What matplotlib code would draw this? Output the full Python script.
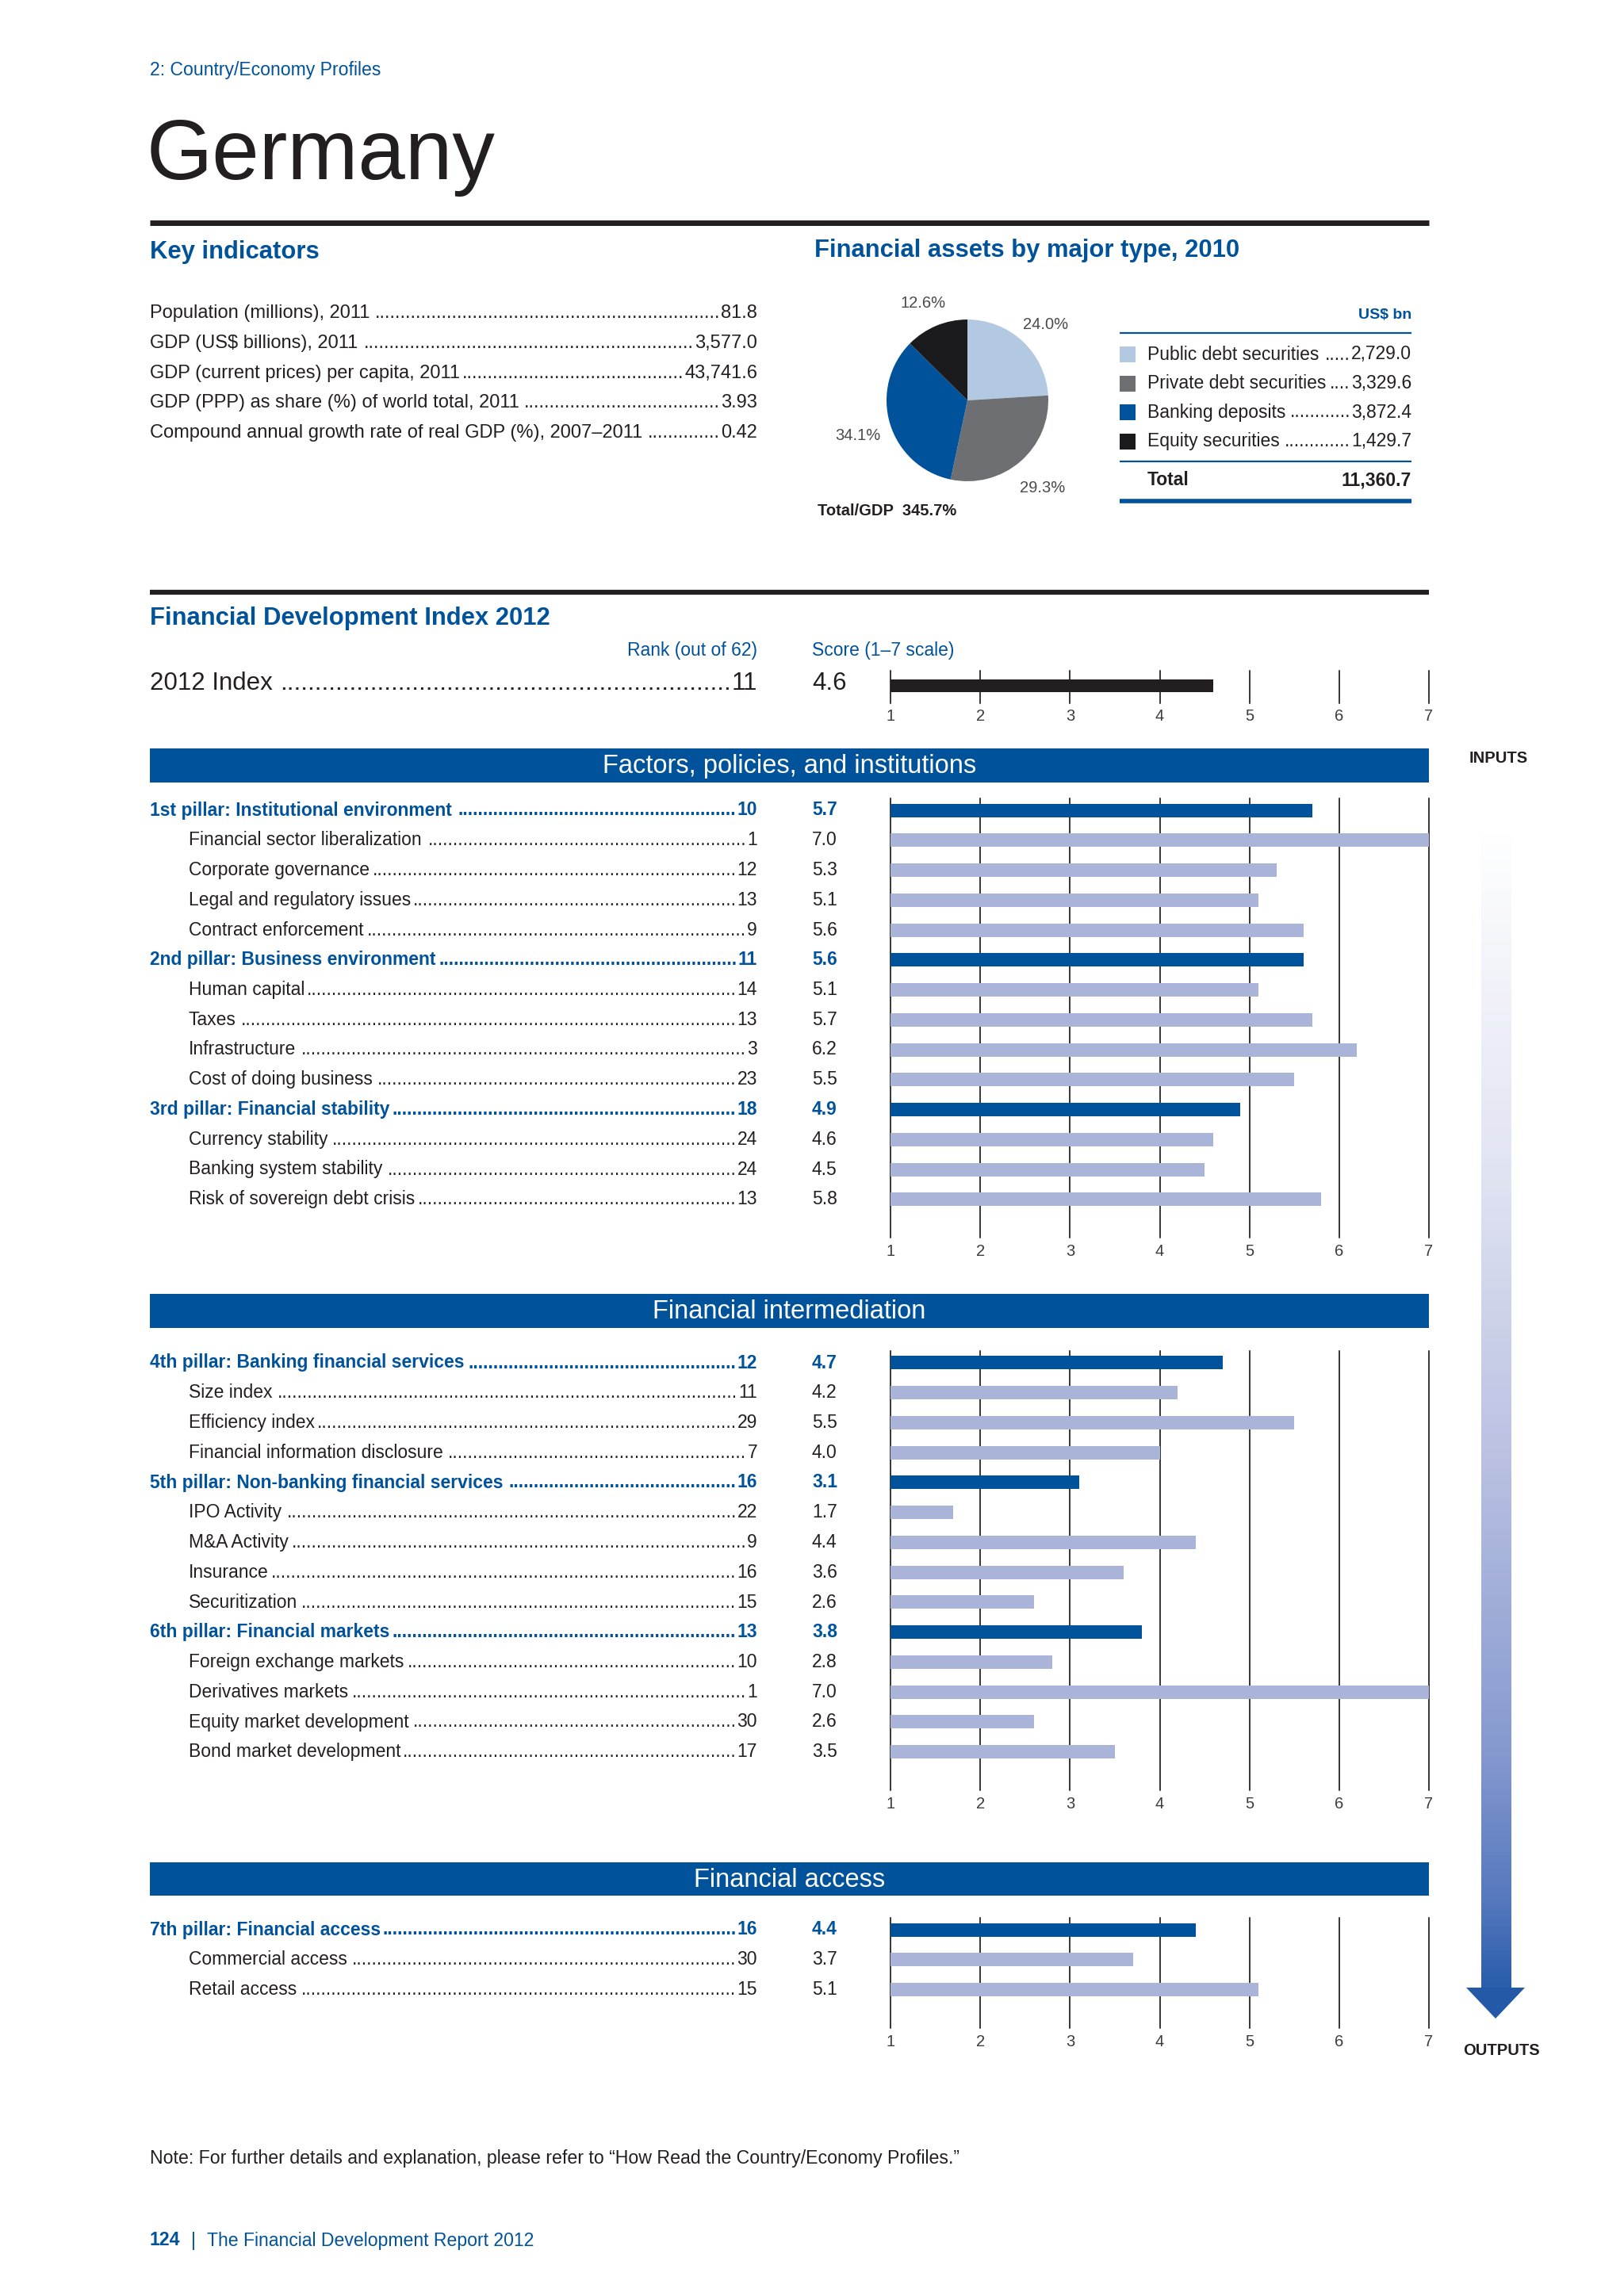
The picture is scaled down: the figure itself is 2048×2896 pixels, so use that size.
import numpy as np
import matplotlib
matplotlib.use('Agg')
import matplotlib.pyplot as plt
from matplotlib.patches import Rectangle, Polygon
from matplotlib.colors import LinearSegmentedColormap

W, H = 2048, 2896
DPI = 100

BLUE = '#00529b'
LIGHT = '#aab4d9'
INK = '#231f20'
TICK = '#3c3c3c'
BODY = 16.5

plt.rcParams['font.family'] = ['Liberation Sans', 'DejaVu Sans']

# --- data -------------------------------------------------------------------
key_labels = ['Population (millions), 2011',
              'GDP (US$ billions), 2011',
              'GDP (current prices) per capita, 2011',
              'GDP (PPP) as share (%) of world total, 2011',
              'Compound annual growth rate of real GDP (%), 2007\u20132011']
key_values = ['81.8', '3,577.0', '43,741.6', '3.93', '0.42']

asset_labels = ['Public debt securities', 'Private debt securities',
                'Banking deposits', 'Equity securities']
asset_values = [2729.0, 3329.6, 3872.4, 1429.7]
asset_colors = ['#b3c8e1', '#6e6f72', '#00529b', '#1b1b1d']
asset_total = 11360.7
total_gdp_pct = 345.7

index_rank = 11
index_score = 4.6

sec1_labels = ['1st pillar: Institutional environment',
               'Financial sector liberalization', 'Corporate governance',
               'Legal and regulatory issues', 'Contract enforcement',
               '2nd pillar: Business environment',
               'Human capital', 'Taxes', 'Infrastructure', 'Cost of doing business',
               '3rd pillar: Financial stability',
               'Currency stability', 'Banking system stability',
               'Risk of sovereign debt crisis']
sec1_ranks = [10, 1, 12, 13, 9, 11, 14, 13, 3, 23, 18, 24, 24, 13]
sec1_scores = [5.7, 7.0, 5.3, 5.1, 5.6, 5.6, 5.1, 5.7, 6.2, 5.5, 4.9, 4.6, 4.5, 5.8]

sec2_labels = ['4th pillar: Banking financial services',
               'Size index', 'Efficiency index', 'Financial information disclosure',
               '5th pillar: Non-banking financial services',
               'IPO Activity', 'M&A Activity', 'Insurance', 'Securitization',
               '6th pillar: Financial markets',
               'Foreign exchange markets', 'Derivatives markets',
               'Equity market development', 'Bond market development']
sec2_ranks = [12, 11, 29, 7, 16, 22, 9, 16, 15, 13, 10, 1, 30, 17]
sec2_scores = [4.7, 4.2, 5.5, 4.0, 3.1, 1.7, 4.4, 3.6, 2.6, 3.8, 2.8, 7.0, 2.6, 3.5]

sec3_labels = ['7th pillar: Financial access', 'Commercial access', 'Retail access']
sec3_ranks = [16, 30, 15]
sec3_scores = [4.4, 3.7, 5.1]

scale_ticks = [1, 2, 3, 4, 5, 6, 7]

# --- layout (pixels) ----------------------------------------------------------
LEFT, RIGHT = 189, 1802
SUB_X = 238
RANK_X = 955
SCORE_X = 1024
X1, X7 = 1123, 1802
ROW_H = 37.75
BAR_H = 17

fig = plt.figure(figsize=(W / DPI, H / DPI), dpi=DPI)
page = fig.add_axes([0, 0, 1, 1])
page.set_xlim(0, W)
page.set_ylim(H, 0)
page.axis('off')


def px_axes(x0, y0, x1, y1):
    ax = fig.add_axes([x0 / W, 1 - y1 / H, (x1 - x0) / W, (y1 - y0) / H])
    ax.set_facecolor('none')
    return ax


def txt(x, y, s, size=BODY, color=INK, weight='normal', ha='left', va='center'):
    return page.text(x, y, s, fontsize=size, color=color, fontweight=weight,
                     ha=ha, va=va)


leaders = []


def leader_row(xl, xr, y, label, value, size=BODY, color=INK, weight='normal'):
    t1 = txt(xl, y, label, size, color, weight)
    t2 = txt(xr, y, value, size, color, weight, ha='right')
    leaders.append((t1, t2, y, size, color, weight))


def hline(x0, x1, y, lw, color):
    page.plot([x0, x1], [y, y], color=color, lw=lw, solid_capstyle='butt')


# --- header -----------------------------------------------------------------
txt(LEFT, 89, '2: Country/Economy Profiles', 16.6, BLUE)
txt(LEFT - 4, 226, 'Germany', 77, INK, va='baseline')
hline(LEFT, RIGHT, 281, 5, INK)

# --- key indicators ---------------------------------------------------------
txt(LEFT, 318, 'Key indicators', 22.3, BLUE, 'bold')
for i, (lab, val) in enumerate(zip(key_labels, key_values)):
    leader_row(LEFT, RANK_X, 395 + i * 37.8, lab, val, 17)

# --- financial assets pie ---------------------------------------------------
txt(1027, 316, 'Financial assets by major type, 2010', 22.3, BLUE, 'bold')
R = 102
pax = px_axes(1220 - 1.5 * R, 505 - 1.5 * R, 1220 + 1.5 * R, 505 + 1.5 * R)
wedges, _, pct_texts = pax.pie(
    asset_values, colors=asset_colors, startangle=90, counterclock=False,
    autopct='%.1f%%', pctdistance=1.36, wedgeprops=dict(linewidth=0),
    textprops=dict(fontsize=14.5, color='#4a4a4a'))
for t in pct_texts:
    px, py = t.get_position()
    t.set_position((px * 1.04, py - 0.05))
pax.set_xlim(-1.5, 1.5)
pax.set_ylim(-1.5, 1.5)
pax.set_aspect('equal')
txt(1031, 645, f'Total/GDP  {total_gdp_pct:.1f}%', 14.5, INK, 'bold')

LX0, LX1 = 1412, 1780
txt(LX1, 397, 'US$ bn', 14, BLUE, 'bold', ha='right')
hline(LX0, LX1, 420, 1.6, BLUE)
for i, (lab, val, col) in enumerate(zip(asset_labels, asset_values, asset_colors)):
    y = 447 + i * 36.5
    page.add_patch(Rectangle((LX0, y - 10), 20, 20, color=col, lw=0))
    leader_row(1447, LX1, y, lab, f'{val:,.1f}')
hline(LX0, LX1, 582, 1.6, BLUE)
txt(1447, 606, 'Total', BODY, INK, 'bold')
txt(LX1, 606, f'{asset_total:,.1f}', BODY, INK, 'bold', ha='right')
hline(LX0, LX1, 632, 4, BLUE)

# --- index ------------------------------------------------------------------
hline(LEFT, RIGHT, 747, 4.5, INK)
txt(LEFT, 780, 'Financial Development Index 2012', 22.3, BLUE, 'bold')
txt(RANK_X, 820, 'Rank (out of 62)', BODY, BLUE, ha='right')
txt(SCORE_X, 820, 'Score (1\u20137 scale)', BODY, BLUE)
leader_row(LEFT, RANK_X, 862, '2012 Index', str(index_rank), 22.5, INK)
txt(SCORE_X, 862, f'{index_score:.1f}', 22.5, INK)


def style_scale(ax, top, bottom, pad):
    ax.set_xlim(1, 7)
    ax.set_ylim(bottom, top)
    for v in scale_ticks:
        ax.axvline(v, color='black', lw=1.1, zorder=1, clip_on=False)
    ax.set_xticks(scale_ticks)
    ax.set_xticklabels([str(v) for v in scale_ticks])
    ax.set_yticks([])
    ax.tick_params(axis='x', length=0, pad=pad, labelsize=14.5, labelcolor=TICK)
    for s in ax.spines.values():
        s.set_visible(False)


iax = px_axes(X1, 846, X7, 887)
style_scale(iax, 846, 887, 5)
iax.barh([865], [index_score - 1], left=1, height=16, color=INK, zorder=3)

# --- sections ---------------------------------------------------------------
def banner(top, bottom, title):
    page.add_patch(Rectangle((LEFT, top), RIGHT - LEFT, bottom - top,
                             color=BLUE, lw=0))
    txt((LEFT + RIGHT) / 2, (top + bottom) / 2 + 1, title, 23.5, 'white',
        ha='center')


def section(first, labels, ranks, scores):
    n = len(labels)
    ys = first + ROW_H * np.arange(n)
    pillar = ['pillar:' in lab for lab in labels]
    for y, lab, rk, sc, p in zip(ys, labels, ranks, scores, pillar):
        if p:
            leader_row(LEFT, RANK_X, y, lab, str(rk), BODY, BLUE, 'bold')
            txt(SCORE_X, y, f'{sc:.1f}', BODY, BLUE, 'bold')
        else:
            leader_row(SUB_X, RANK_X, y, lab, str(rk), BODY, INK)
            txt(SCORE_X, y, f'{sc:.1f}', BODY, INK)
    top = first - 15
    bottom = ys[-1] + 48
    ax = px_axes(X1, top, X7, bottom)
    style_scale(ax, top, bottom, 6)
    ax.barh(ys, np.array(scores) - 1, left=1, height=BAR_H,
            color=[BLUE if p else LIGHT for p in pillar], zorder=3)


banner(944, 987, 'Factors, policies, and institutions')
section(1022, sec1_labels, sec1_ranks, sec1_scores)
banner(1632, 1675, 'Financial intermediation')
section(1719, sec2_labels, sec2_ranks, sec2_scores)
banner(2349, 2391, 'Financial access')
section(2434, sec3_labels, sec3_ranks, sec3_scores)

# --- inputs / outputs arrow -------------------------------------------------
txt(1890, 957, 'INPUTS', 14.5, INK, 'bold', ha='center')
arrow_cmap = LinearSegmentedColormap.from_list(
    'arrow', [(0.0, '#ffffff'), (0.3, '#e0e3f2'), (0.55, '#b9c0e1'),
              (0.8, '#8599cf'), (0.93, '#5577bd'), (1.0, '#2a5dab')])
page.imshow(np.linspace(0, 1, 400).reshape(-1, 1), cmap=arrow_cmap,
            extent=(1868, 1906, 2508, 1045), aspect='auto', origin='upper',
            zorder=1)
page.add_patch(Polygon([(1849, 2507), (1923, 2507), (1886, 2546)],
                       closed=True, color='#2359a7', lw=0))
txt(1893, 2587, 'OUTPUTS', 14.5, INK, 'bold', ha='center')
page.set_xlim(0, W)
page.set_ylim(H, 0)

# --- footer -----------------------------------------------------------------
txt(LEFT, 2722, 'Note: For further details and explanation, please refer to '
    '\u201cHow Read the Country/Economy Profiles.\u201d', 16.7, INK)
txt(LEFT, 2826, '124', 16.6, BLUE, 'bold')
txt(241, 2826, '|', 16.6, BLUE)
txt(261, 2826, 'The Financial Development Report 2012', 16.6, BLUE)

# --- dot leaders (measured after layout) ------------------------------------
renderer = fig.canvas.get_renderer()
dot_cache = {}
for t1, t2, y, size, color, weight in leaders:
    key = (size, weight)
    if key not in dot_cache:
        probe = page.text(0, 0, '.' * 50, fontsize=size, fontweight=weight)
        dot_cache[key] = probe.get_window_extent(renderer).width / 50
        probe.remove()
    dw = dot_cache[key]
    b1 = t1.get_window_extent(renderer)
    b2 = t2.get_window_extent(renderer)
    n = int((b2.x0 - b1.x1 - 3) / dw)
    if n > 0:
        page.text(b2.x0 - 1, y, '.' * n, fontsize=size, color=color,
                  fontweight=weight, ha='right', va='center')

fig.savefig('out.png', dpi=DPI)
